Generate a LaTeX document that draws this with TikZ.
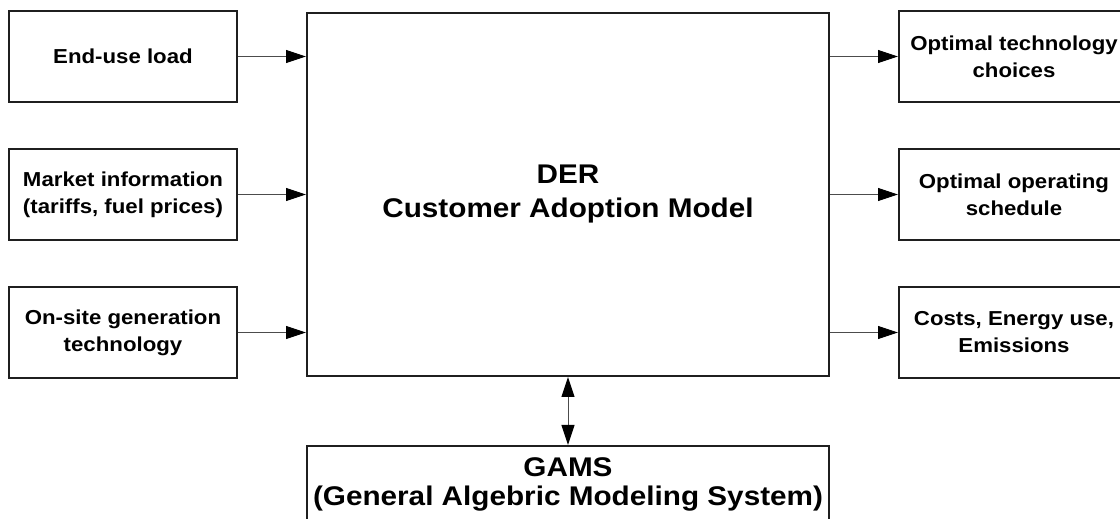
\documentclass[tikz,border=0pt]{standalone}
\usepackage{fontspec}
\setmainfont[FakeStretch=1.1]{Liberation Sans}
\usetikzlibrary{positioning,arrows.meta}
\newcommand{\boxfont}{\fontsize{20.2}{27}\selectfont\bfseries}
\newcommand{\bigfont}{\fontsize{27}{34}\selectfont\bfseries}

\begin{document}
\begin{tikzpicture}[
    x=1pt, y=1pt,
    node distance=45pt and 68pt,
    side/.style={rectangle, draw=black!88, line width=2pt, minimum width=228pt,
                 minimum height=91pt, align=center, font=\boxfont, inner sep=0pt},
    model/.style={rectangle, draw=black!88, line width=2pt, minimum width=522pt,
                  minimum height=363pt, align=center, font=\bigfont},
    arrow/.style={-{Triangle[length=20pt, width=13pt, color=black]}, line width=1pt, draw=black!70},
    duplex/.style={{Triangle[length=20pt, width=13pt, color=black]}-{Triangle[length=20pt, width=13pt, color=black]},
                   line width=1pt, draw=black!70},
]
\useasboundingbox (0,0) rectangle (1120,519);

% Model in the middle
\node[model] (cam) at (568,324.5) {DER\\Customer Adoption Model};

% Inputs on the left
\node[side, left=of cam] (market) {Market information\\(tariffs, fuel prices)};
\node[side, above=of market] (load) {End-use load};
\node[side, below=of market] (onsite) {On-site generation\\technology};

% Outputs on the right
\node[side, minimum width=230pt, right=of cam] (sched) {Optimal operating\\schedule};
\node[side, minimum width=230pt, above=of sched] (tech) {Optimal technology\\choices};
\node[side, minimum width=230pt, below=of sched] (costs) {Costs, Energy use,\\Emissions};

% Solver below
\node[model, minimum height=77pt, below=68pt of cam,
      font=\fontsize{27}{29}\selectfont\bfseries] (gams)
      {GAMS\\(General Algebric Modeling System)};

% Arrows
\draw[arrow] (load) -- (load -| cam.west);
\draw[arrow] (market) -- (market -| cam.west);
\draw[arrow] (onsite) -- (onsite -| cam.west);
\draw[arrow] (tech -| cam.east) -- (tech);
\draw[arrow] (sched -| cam.east) -- (sched);
\draw[arrow] (costs -| cam.east) -- (costs);
\draw[duplex] (cam) -- (gams);

\end{tikzpicture}
\end{document}
